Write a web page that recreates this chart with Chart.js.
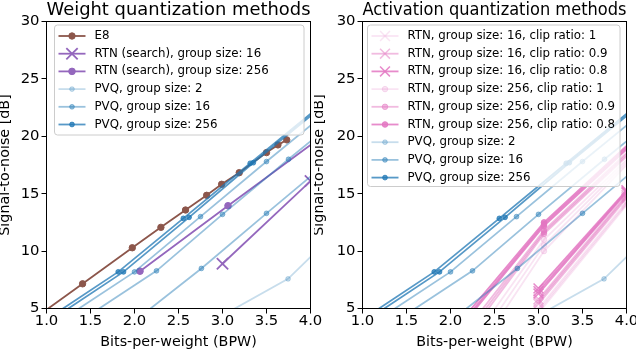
<!DOCTYPE html>
<html>
<head>
<meta charset="utf-8">
<script src="https://cdn.jsdelivr.net/npm/chart.js@4.4.1/dist/chart.umd.min.js"></script>
<style>
  html, body { margin: 0; padding: 0; background: #fff; }
  #wrap { position: relative; width: 636px; height: 352px; overflow: hidden; }
  canvas { position: absolute; top: 0; }
  #weights-chart { left: 0; }
  #acts-chart { left: 314px; }
</style>
</head>
<body>
<div id="wrap">
  <canvas id="weights-chart" width="330" height="352"></canvas>
  <canvas id="acts-chart" width="322" height="352"></canvas>
</div>
<script>
// ticks
const BPW_TICKS = [1.0, 1.5, 2.0, 2.5, 3.0, 3.5, 4.0];
const SNR_TICKS = [5, 10, 15, 20, 25, 30];

// weight quantization
const E8_BPW = [0.82, 1.41, 1.975, 2.30, 2.58, 2.82, 2.99, 3.19, 3.50, 3.63, 3.73];
const E8_SNR = [3.9, 7.15, 10.29, 12.07, 13.58, 14.86, 15.82, 16.83, 18.58, 19.25, 19.69];

const RTN_SEARCH_16_BPW = [3.0, 4.0];
const RTN_SEARCH_16_SNR = [8.9, 16.1];
const RTN_SEARCH_256_BPW = [2.0625, 3.0625, 4.0625];
const RTN_SEARCH_256_SNR = [8.25, 13.95, 19.6];

// PVQ curves (same in both panels), a few curves per group size
const PVQ_2_BPW = [[3.0, 3.745, 4.5]];
const PVQ_2_SNR = [[4.4, 7.58, 13.25]];
const PVQ_16_BPW = [[1.25, 2.0, 2.75, 3.5, 4.25], [1.5, 2.25, 3.0, 3.75, 4.5], [2.0, 2.76, 3.5, 4.25]];
const PVQ_16_SNR = [[4.4, 8.19, 13.0, 17.8, 22.5], [4.5, 8.28, 13.2, 18.0, 22.7], [3.9, 8.49, 13.29, 18.1]];
const PVQ_256_BPW = [[1.07, 1.815, 2.555, 3.315, 4.07], [1.13, 1.875, 2.62, 3.35, 4.1]];
const PVQ_256_SNR = [[4.4, 8.19, 12.85, 17.65, 22.4], [4.4, 8.19, 12.94, 17.7, 22.4]];

// activation quantization (RTN with clipping)
const ACT_RTN_16_BPW = [3.0, 4.0];
const ACT_RTN_16_CLIP1_SNR = [[5.0, 14.3], [4.8, 14.15], [4.6, 14.0]];
const ACT_RTN_16_CLIP09_SNR = [[5.8, 14.9], [5.6, 14.75], [5.4, 14.6]];
const ACT_RTN_16_CLIP08_SNR = [[6.75, 15.3], [6.5, 15.2], [6.3, 15.1]];
const ACT_RTN_256_BPW = [2.0625, 3.0625, 4.0625];
const ACT_RTN_256_CLIP1_SNR = [[0.2, 11.0, 18.4], [-0.6, 10.5, 18.2], [-1.5, 10.0, 18.0]];
const ACT_RTN_256_CLIP09_SNR = [[2.0, 11.8, 19.0], [1.6, 11.65, 18.85], [1.2, 11.5, 18.7]];
const ACT_RTN_256_CLIP08_SNR = [[3.4, 12.5, 19.6], [3.1, 12.35, 19.45], [2.9, 12.2, 19.3]];

const BLUE = a => `rgba(31,119,180,${a})`;
const PINK = a => `rgba(227,119,194,${a})`;

Chart.defaults.font.family = "'DejaVu Sans', sans-serif";
Chart.defaults.color = '#000';

function series(bpw, snr, label, color, marker) {
  return {
    label: label,
    data: bpw.map((x, i) => ({ x: x, y: snr[i] })),
    borderColor: color,
    borderWidth: marker.lineWidth || 1.8,
    pointStyle: marker.style,
    pointRadius: marker.radius,
    pointBackgroundColor: color,
    pointBorderColor: color,
    pointBorderWidth: marker.edge,
    tension: 0
  };
}

// several curves share one legend entry
function curveGroup(bpwLists, snrLists, label, color, marker) {
  return snrLists.map((snr, i) => {
    const bpw = Array.isArray(bpwLists[0]) ? bpwLists[i] : bpwLists;
    return series(bpw, snr, i === 0 ? label : '', color, marker);
  });
}

const dot = { style: 'circle', radius: 2.4, edge: 1 };
function pvqDatasets() {
  return [
    ...curveGroup(PVQ_2_BPW, PVQ_2_SNR, 'PVQ, group size: 2', BLUE(0.25), dot),
    ...curveGroup(PVQ_16_BPW, PVQ_16_SNR, 'PVQ, group size: 16', BLUE(0.45), dot),
    ...curveGroup(PVQ_256_BPW, PVQ_256_SNR, 'PVQ, group size: 256', BLUE(0.75), dot)
  ];
}

// legend in a box inside the plot area, matplotlib style
const boxLegend = {
  id: 'boxLegend',
  afterDatasetsDraw(chart, args, opts) {
    const ctx = chart.ctx;
    const items = chart.data.datasets.filter(ds => ds.label);
    ctx.save();
    ctx.beginPath();
    ctx.roundRect(opts.x, opts.y, opts.w, opts.h, 3);
    ctx.fillStyle = 'rgba(255,255,255,0.8)';
    ctx.fill();
    ctx.strokeStyle = '#cccccc';
    ctx.lineWidth = 1;
    ctx.stroke();
    ctx.font = "11.8px 'DejaVu Sans', sans-serif";
    ctx.textBaseline = 'middle';
    items.forEach((ds, i) => {
      const cy = opts.y + 11 + i * 17.7;
      const x0 = opts.x + 4, x1 = opts.x + 31;
      ctx.strokeStyle = ds.borderColor;
      ctx.lineWidth = ds.borderWidth;
      ctx.beginPath();
      ctx.moveTo(x0, cy);
      ctx.lineTo(x1, cy);
      ctx.stroke();
      ctx.fillStyle = ds.pointBackgroundColor;
      ctx.strokeStyle = ds.pointBorderColor;
      ctx.lineWidth = ds.pointBorderWidth;
      Chart.helpers.drawPoint(ctx, {
        pointStyle: ds.pointStyle, radius: ds.pointRadius, rotation: 0, borderWidth: ds.pointBorderWidth
      }, (x0 + x1) / 2, cy);
      ctx.fillStyle = '#000';
      ctx.fillText(ds.label, opts.x + 40, cy);
    });
    ctx.restore();
  }
};

// axes box on all four sides
const axesFrame = {
  id: 'axesFrame',
  afterDraw(chart) {
    const { ctx, chartArea: a } = chart;
    ctx.save();
    ctx.strokeStyle = '#000';
    ctx.lineWidth = 1;
    ctx.strokeRect(a.left, a.top, a.right - a.left, a.bottom - a.top);
    ctx.restore();
  }
};

function makeOptions(title, areaLeft, areaRight, legendBox) {
  return {
    responsive: false,
    animation: false,
    layout: { padding: { left: 0, right: areaRight, top: 0, bottom: 0 } },
    datasets: { line: { clip: 0 } },
    scales: {
      x: {
        type: 'linear', min: 1, max: 4,
        afterBuildTicks: axis => { axis.ticks = BPW_TICKS.map(v => ({ value: v })); },
        afterFit: axis => { axis.height = 43.5; axis.paddingLeft = 0; axis.paddingRight = 0; },
        ticks: { autoSkip: false, maxRotation: 0, padding: 0, font: { size: 14.8, lineHeight: 1 },
                 callback: v => v.toFixed(1) },
        grid: { drawOnChartArea: false, drawTicks: true, tickLength: 5, tickColor: '#000', tickWidth: 1 },
        border: { display: false },
        title: { display: true, text: 'Bits-per-weight (BPW)', font: { size: 14.3, lineHeight: 1 },
                 padding: { top: 0, bottom: 2.3 } }
      },
      y: {
        type: 'linear', min: 5, max: 30,
        afterBuildTicks: axis => { axis.ticks = SNR_TICKS.map(v => ({ value: v })); },
        afterFit: axis => { axis.width = areaLeft; axis.paddingTop = 0; axis.paddingBottom = 0; },
        ticks: { autoSkip: false, padding: 2, font: { size: 14.8, lineHeight: 1 } },
        grid: { drawOnChartArea: false, drawTicks: true, tickLength: 5, tickColor: '#000', tickWidth: 1 },
        border: { display: false },
        title: { display: true, text: 'Signal-to-noise [dB]', font: { size: 14.3, lineHeight: 0.8 },
                 padding: { top: 0, bottom: 0 } }
      }
    },
    plugins: {
      legend: { display: false },
      tooltip: { enabled: false },
      title: { display: true, text: title, fullSize: false, font: { size: 18, weight: 'normal', lineHeight: 0.8 },
               padding: { top: 3.4, bottom: 3.7 } },
      boxLegend: legendBox
    }
  };
}

function withOrder(datasets) {
  // later series on top, like matplotlib
  datasets.forEach((ds, i) => { ds.order = -i; });
  return datasets;
}

const weightDatasets = withOrder([
  series(E8_BPW, E8_SNR, 'E8', '#8c564b', { style: 'circle', radius: 3.2, edge: 1 }),
  series(RTN_SEARCH_16_BPW, RTN_SEARCH_16_SNR, 'RTN (search), group size: 16', '#9467bd',
         { style: 'crossRot', radius: 8, edge: 1.8 }),
  series(RTN_SEARCH_256_BPW, RTN_SEARCH_256_SNR, 'RTN (search), group size: 256', '#9467bd',
         { style: 'circle', radius: 3.3, edge: 1 }),
  ...pvqDatasets()
]);

const cross = { style: 'crossRot', radius: 7, edge: 1.5 };
const circ = { style: 'circle', radius: 2.8, edge: 1 };
const actDatasets = withOrder([
  ...curveGroup(ACT_RTN_16_BPW, ACT_RTN_16_CLIP1_SNR, 'RTN, group size: 16, clip ratio: 1', PINK(0.2), cross),
  ...curveGroup(ACT_RTN_16_BPW, ACT_RTN_16_CLIP09_SNR, 'RTN, group size: 16, clip ratio: 0.9', PINK(0.5), cross),
  ...curveGroup(ACT_RTN_16_BPW, ACT_RTN_16_CLIP08_SNR, 'RTN, group size: 16, clip ratio: 0.8', PINK(0.85), cross),
  ...curveGroup(ACT_RTN_256_BPW, ACT_RTN_256_CLIP1_SNR, 'RTN, group size: 256, clip ratio: 1', PINK(0.2), circ),
  ...curveGroup(ACT_RTN_256_BPW, ACT_RTN_256_CLIP09_SNR, 'RTN, group size: 256, clip ratio: 0.9', PINK(0.5), circ),
  ...curveGroup(ACT_RTN_256_BPW, ACT_RTN_256_CLIP08_SNR, 'RTN, group size: 256, clip ratio: 0.8', PINK(0.85), circ),
  ...pvqDatasets()
]);

new Chart(document.getElementById('weights-chart'), {
  type: 'line',
  data: { datasets: weightDatasets },
  options: makeOptions('Weight quantization methods', 46.5, 19.5, { x: 54.5, y: 25, w: 249.5, h: 110 }),
  plugins: [boxLegend, axesFrame]
});

new Chart(document.getElementById('acts-chart'), {
  type: 'line',
  data: { datasets: actDatasets },
  options: makeOptions('Activation quantization methods', 48.5, 9.5, { x: 53.5, y: 25, w: 252.5, h: 161.5 }),
  plugins: [boxLegend, axesFrame]
});
</script>
</body>
</html>
